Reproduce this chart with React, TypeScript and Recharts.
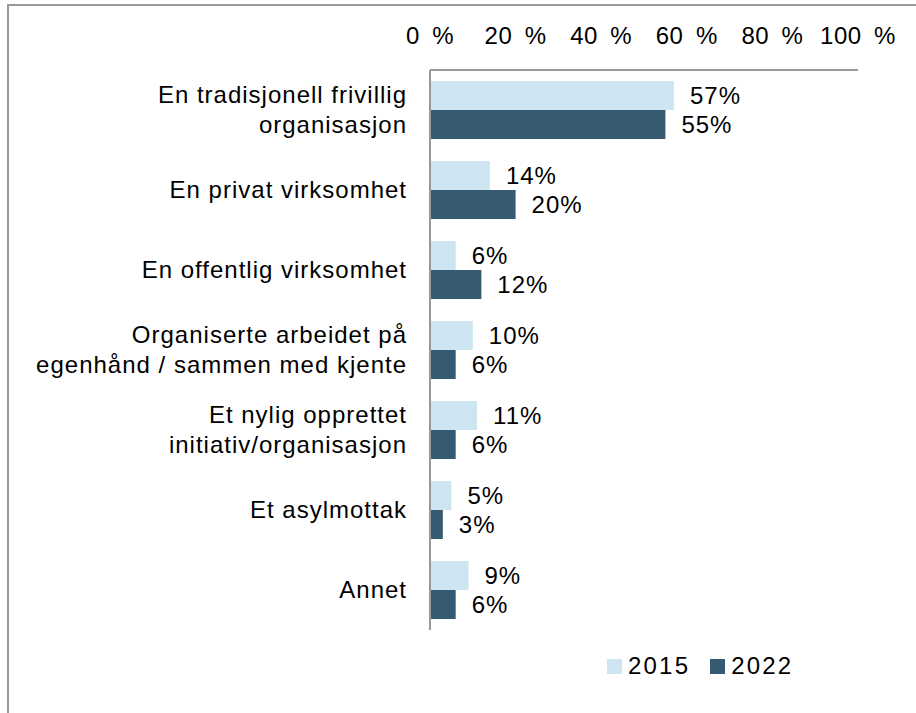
import { Bar, BarChart, LabelList, Legend, XAxis, YAxis } from "recharts";

const categories = [
  "En tradisjonell frivillig\norganisasjon",
  "En privat virksomhet",
  "En offentlig virksomhet",
  "Organiserte arbeidet på\negenhånd / sammen med kjente",
  "Et nylig opprettet\ninitiativ/organisasjon",
  "Et asylmottak",
  "Annet",
];
const values2015 = [57, 14, 6, 10, 11, 5, 9];
const values2022 = [55, 20, 12, 6, 6, 3, 6];
const xTicks = [0, 20, 40, 60, 80, 100];

const FONT = "'Liberation Sans', Arial, sans-serif";
const LIGHT = "#cde5f1";
const DARK = "#375a73";
const AXIS = "#999999";

const data = categories.map((name, i) => ({ name, y2015: values2015[i], y2022: values2022[i] }));

function CategoryTick({ x, y, payload }: { x?: number; y?: number; payload?: { value: string } }) {
  const lines = String(payload?.value ?? "").split("\n");
  const start = -((lines.length - 1) * 30) / 2;
  return (
    <text x={x} y={y} textAnchor="end" fontSize={24} fill="#000" fontFamily={FONT} letterSpacing={1}>
      {lines.map((line, i) => (
        <tspan key={i} x={x} y={(y ?? 0) + start + i * 30 - 1} dy="0.355em">
          {line}
        </tspan>
      ))}
    </text>
  );
}

function LegendContent() {
  const items = [
    { label: "2015", color: LIGHT },
    { label: "2022", color: DARK },
  ];
  return (
    <div style={{ display: "flex", alignItems: "center", fontFamily: FONT, fontSize: 24, letterSpacing: 2.2 }}>
      {items.map((item) => (
        <div key={item.label} style={{ display: "flex", alignItems: "center", marginRight: 20 }}>
          <span style={{ width: 15, height: 15, background: item.color, display: "inline-block", marginRight: 6 }} />
          <span>{item.label}</span>
        </div>
      ))}
    </div>
  );
}

export default function App() {
  return (
    <div style={{ position: "absolute", left: 0, top: 0, width: 916, height: 713, background: "#fff" }}>
      <div
        style={{
          position: "absolute",
          left: 7,
          top: 4,
          right: 0,
          bottom: 0,
          borderTop: `2px solid ${AXIS}`,
          borderLeft: `2px solid ${AXIS}`,
        }}
      />
      <BarChart
        width={916}
        height={713}
        data={data}
        layout="vertical"
        margin={{ top: 40, right: 58, left: 0, bottom: 83 }}
        barCategoryGap={11}
        barGap={0}
      >
        <XAxis
          type="number"
          orientation="top"
          domain={[0, 100]}
          ticks={xTicks}
          height={30}
          tickFormatter={(v) => `${v}\u2002%`}
          tick={{ fontSize: 24, fill: "#000", fontFamily: FONT, letterSpacing: 0.5 }}
          tickLine={false}
          tickMargin={20}
          axisLine={{ stroke: AXIS, strokeWidth: 2 }}
        />
        <YAxis
          type="category"
          dataKey="name"
          width={430}
          tickLine={false}
          tickMargin={17}
          axisLine={{ stroke: AXIS, strokeWidth: 2 }}
          tick={<CategoryTick />}
          interval={0}
        />
        <Legend
          layout="vertical"
          verticalAlign="middle"
          align="center"
          content={<LegendContent />}
          wrapperStyle={{ top: 652, left: 607, width: "auto" }}
        />
        <Bar dataKey="y2015" name="2015" fill={LIGHT} isAnimationActive={false}>
          <LabelList
            dataKey="y2015"
            position="right"
            offset={16}
            formatter={(v: any) => `${v}%`}
            style={{ fontSize: 24, fill: "#000", fontFamily: FONT, letterSpacing: 1 }}
          />
        </Bar>
        <Bar dataKey="y2022" name="2022" fill={DARK} isAnimationActive={false}>
          <LabelList
            dataKey="y2022"
            position="right"
            offset={16}
            formatter={(v: any) => `${v}%`}
            style={{ fontSize: 24, fill: "#000", fontFamily: FONT, letterSpacing: 1 }}
          />
        </Bar>
      </BarChart>
    </div>
  );
}
